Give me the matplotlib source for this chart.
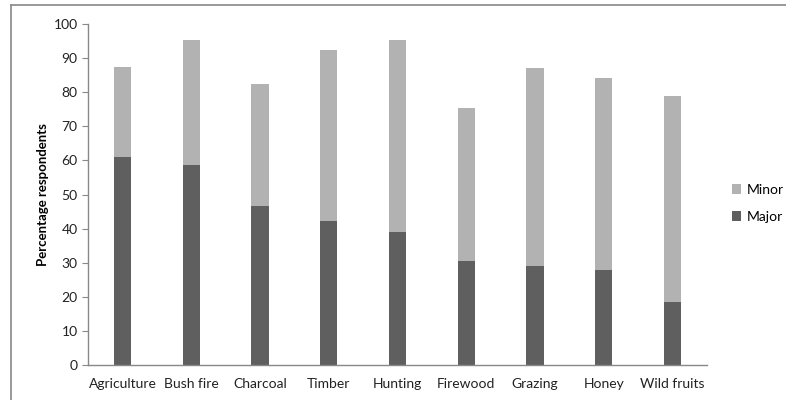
import matplotlib
matplotlib.use('Agg')
import matplotlib.pyplot as plt
from matplotlib.lines import Line2D

categories = ['Agriculture', 'Bush fire', 'Charcoal', 'Timber', 'Hunting',
              'Firewood', 'Grazing', 'Honey', 'Wild fruits']
major = [60.9, 58.6, 46.6, 42.2, 39.0, 30.4, 29.0, 28.0, 18.5]
minor = [26.6, 36.7, 35.8, 50.2, 56.3, 44.9, 58.0, 56.2, 60.4]

plt.rcParams['font.family'] = ['Lato', 'DejaVu Sans']

fig = plt.figure(figsize=(7.86, 4.0), dpi=100)
ax = fig.add_axes([0.112, 0.0875, 0.7875, 0.8525])

x = list(range(len(categories)))
ax.bar(x, major, width=0.25, color='#5f5f5f', label='Major')
ax.bar(x, minor, width=0.25, bottom=major, color='#b2b2b2', label='Minor')

ax.set_xlim(-0.5, len(categories) - 0.5)
ax.set_ylim(0, 100)
ax.set_yticks(range(0, 101, 10))
ax.set_xticks(x)
ax.set_xticklabels(categories, fontsize=10, color='#222222')
ax.tick_params(axis='y', labelsize=10, colors='#222222', length=4, color='#888888')
ax.tick_params(axis='x', length=0, pad=9)
for s in ['top', 'right']:
    ax.spines[s].set_visible(False)
for s in ['left', 'bottom']:
    ax.spines[s].set_color('#888888')
    ax.spines[s].set_linewidth(1.0)

ax.set_ylabel('Percentage respondents', fontsize=9.5, fontweight='bold', labelpad=3)

# legend, Minor on top
h, l = ax.get_legend_handles_labels()
ax.legend(h[::-1], l[::-1], loc='center left', bbox_to_anchor=(1.04, 0.474),
          borderaxespad=0, borderpad=0,
          frameon=False, fontsize=10, handlelength=0.7, handleheight=0.7,
          handletextpad=0.4, labelspacing=1.1)

# outer frame (top and left visible)
fig.add_artist(Line2D([0.014, 1.0], [0.988, 0.988], color='#888888', lw=1.2, transform=fig.transFigure))
fig.add_artist(Line2D([0.014, 0.014], [0.0, 0.988], color='#888888', lw=1.2, transform=fig.transFigure))

plt.savefig('out.png', dpi=100)
plt.close()
